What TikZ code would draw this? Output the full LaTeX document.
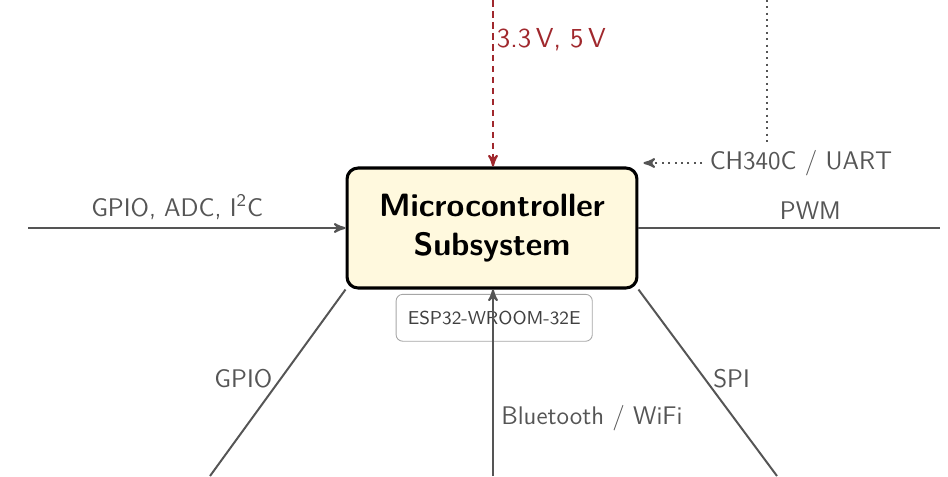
\documentclass[tikz,border=0pt]{standalone}
\usepackage{tikz}
\usetikzlibrary{shapes,calc,positioning,arrows}

\definecolor{mcufill}{RGB}{255,249,222}
\definecolor{linegray}{RGB}{85,85,85}
\definecolor{pwrred}{RGB}{160,40,45}

\begin{document}
\begin{tikzpicture}[>=stealth', auto, x=0.016cm, y=-0.016cm,
   font=\sffamily\fontsize{11.6}{14}\selectfont,
   mcu/.style={rectangle, draw=black, line width=1.4pt, fill=mcufill,
     rounded corners=5pt, minimum width=4.64cm, minimum height=1.92cm,
     align=center, font=\sffamily\bfseries\fontsize{14.7}{18}\selectfont},
   chip/.style={rectangle, draw=black!35, thin, rounded corners=3pt,
     minimum width=3.14cm, minimum height=0.75cm,
     font=\sffamily\fontsize{8.5}{10}\selectfont, text=black!75},
   link/.style={draw=linegray, line width=0.9pt},
   lbl/.style={text=linegray},
   pwr/.style={draw=pwrred, line width=0.9pt, dash pattern=on 3pt off 2pt}]

  \useasboundingbox (0,0) rectangle (948,476);

  \node [mcu] (mcu) at (492,228) {Microcontroller\\Subsystem};
  \node [chip, below=2pt of mcu, xshift=1pt] (esp) {ESP32-WROOM-32E};
  \node [lbl] (uart) at (801,163) {CH340C / UART};

  \coordinate (pwrin) at (493,0);
  \coordinate (usbin) at (767,0);
  \coordinate (senin) at (28,228);
  \coordinate (pwmout) at (940,228);
  \coordinate (gpioout) at (210,476);
  \coordinate (radio) at (493,476);
  \coordinate (spiout) at (777,476);

  \draw [pwr,->] (pwrin) -- (pwrin |- mcu.north)
    node [pos=0.24, right, text=pwrred, xshift=-2pt,
      font=\sffamily\fontsize{12.5}{15}\selectfont] {3.3\,V, 5\,V};
  \draw [link, dotted] (usbin) -- (usbin |- uart.north);
  \draw [link, dotted, ->] (uart.west) -- ($(uart -| mcu.east)+(5,0)$);
  \draw [link, ->] (senin) -- (mcu.west)
    node [pos=0.47, above, lbl] {GPIO, ADC, I\textsuperscript{2}C};
  \draw [link] (mcu.east) -- (pwmout) node [pos=0.57, above, lbl] {PWM};
  \draw [link] (mcu.south west) -- (gpioout) node [pos=0.48, left, lbl] {GPIO};
  \draw [link, ->] (radio) -- (radio |- mcu.south)
    node [pos=0.31, right, lbl] {Bluetooth / WiFi};
  \draw [link] (mcu.south east) -- (spiout) node [pos=0.48, right, lbl] {SPI};
\end{tikzpicture}
\end{document}
